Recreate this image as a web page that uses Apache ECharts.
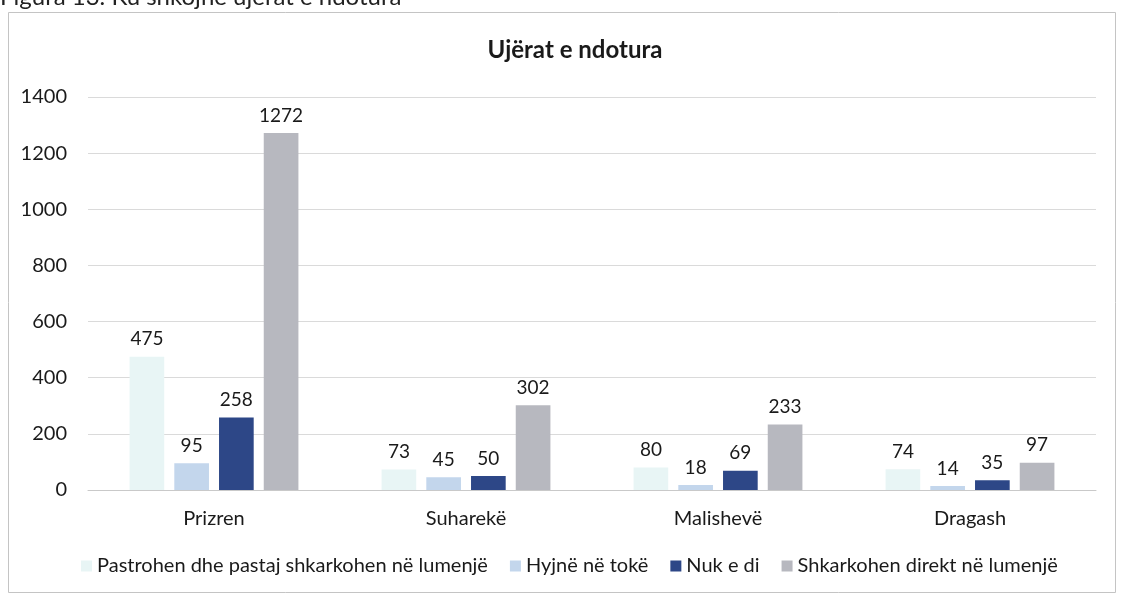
<!DOCTYPE html>
<html>
<head>
<meta charset="utf-8">
<script src="https://cdn.jsdelivr.net/npm/echarts@6/dist/echarts.min.js"></script>
<style>
    html, body { margin: 0; padding: 0; background: #fff; }
    #chart { width: 1122px; height: 597px; }
</style>
</head>
<body>
<div id="chart"></div>
<script>
const categories = ["Prizren", "Suharekë", "Malishevë", "Dragash"]
const seriesNames = [
    "Pastrohen dhe pastaj shkarkohen në lumenjë",
    "Hyjnë në tokë",
    "Nuk e di",
    "Shkarkohen direkt në lumenjë",
]
const pastrohen = [475, 73, 80, 74]
const hyjne     = [95, 45, 18, 14]
const nukEDi    = [258, 50, 69, 35]
const direkt    = [1272, 302, 233, 97]
const yTicks    = { min: 0, max: 1400, interval: 200 }

const colors = ["#e8f5f5", "#c3d6ec", "#2d4787", "#b7b8bf"]
const font = "Lato, 'Noto Sans', sans-serif"

const chartInst = echarts.init(document.getElementById("chart"), null, { renderer: "canvas" })

const makeSeries = (name, data, i) => ({
    name,
    type: "bar",
    data,
    barGap: "29%",
    barCategoryGap: "33%",
    itemStyle: { color: colors[i] },
    label: {
        show: true,
        position: "top",
        distance: 8,
        color: "#1a1a1a",
        fontSize: 19,
        fontFamily: font,
    },
})

chartInst.setOption({
    backgroundColor: "#ffffff",
    animation: false,
    title: {
        text: "Ujërat e ndotura",
        left: 570,
        top: 33,
        textAlign: "center",
        textStyle: { fontSize: 24, fontWeight: "bold", color: "#1a1a1a", fontFamily: font },
    },
    graphic: [
        {
            type: "rect",
            shape: { x: 8.5, y: 12.5, width: 1107, height: 580 },
            style: { fill: "none", stroke: "#c4c4c4", lineWidth: 1 },
        },
        {
            type: "text",
            left: 0,
            top: -15,
            style: { text: "Figura 13. Ku shkojnë ujërat e ndotura", fontSize: 24, fill: "#222", fontFamily: font },
        },
    ],
    legend: {
        bottom: 16,
        left: 76,
        itemWidth: 11,
        itemHeight: 11,
        itemGap: 22,
        icon: "rect",
        textStyle: { fontSize: 20, color: "#1a1a1a", fontFamily: font },
        data: seriesNames,
    },
    grid: { left: 88, right: 26, top: 97, bottom: 107, containLabel: false },
    xAxis: {
        type: "category",
        data: categories,
        axisTick: { show: false },
        axisLine: { lineStyle: { color: "#c9c9c9" } },
        axisLabel: { fontSize: 20, color: "#1a1a1a", margin: 19, fontFamily: font },
    },
    yAxis: {
        type: "value",
        min: yTicks.min,
        max: yTicks.max,
        interval: yTicks.interval,
        axisLine: { show: false },
        axisTick: { show: false },
        axisLabel: {
            fontSize: 20,
            color: "#1a1a1a",
            margin: 21,
            fontFamily: font,
            formatter: v => String(v),
        },
        splitLine: { lineStyle: { color: "#dadada" } },
    },
    series: [pastrohen, hyjne, nukEDi, direkt].map((d, i) => makeSeries(seriesNames[i], d, i)),
})
</script>
</body>
</html>
